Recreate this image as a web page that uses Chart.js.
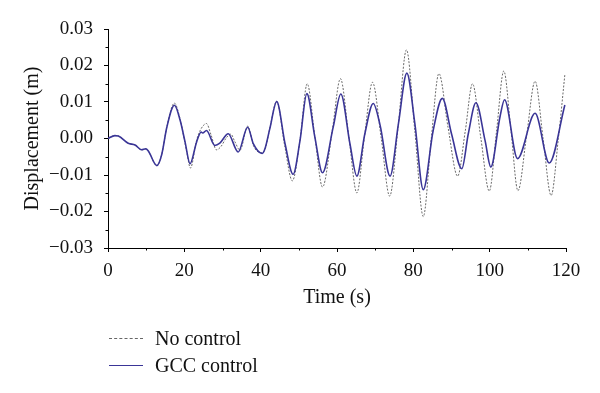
<!DOCTYPE html>
<html>
<head>
<meta charset="utf-8">
<script src="https://cdn.jsdelivr.net/npm/chart.js@4.4.0/dist/chart.umd.min.js"></script>
<style>
  body { margin: 0; background: #fff; }
  #wrap { position: relative; width: 600px; height: 393px; }
  #legend { position: absolute; left: 109px; top: 325px; font-family: 'Liberation Serif', serif; font-size: 20px; color: #111; }
  .row { display: flex; align-items: center; height: 27px; }
  .swatch { width: 34px; height: 0; margin-right: 12px; }
</style>
</head>
<body>
<div id="wrap">
  <canvas id="myChart" width="600" height="393"></canvas>
  <div id="legend">
    <div class="row"><span class="swatch" style="border-top:1px dashed #666"></span><span>No control</span></div>
    <div class="row"><span class="swatch" style="border-top:1.5px solid #3a3597"></span><span>GCC control</span></div>
  </div>
</div>
<script>
// time (s) and displacement (m)
const timeNo = [0, 1.8, 2.7, 5.3, 7.1, 8.8, 9.9, 10.6, 12.8, 14.1, 15.4, 17.4, 18.9, 20.6, 21.6, 23.2, 24.3, 25.8, 27.0, 28.4,
    29.6, 31.0, 32.2, 33.2, 34.6, 36.6, 38.2, 40.3, 41.2, 42.4, 44.2, 46.3, 48.3, 50.3, 52.2, 54.2, 56.2, 58.8, 60.9, 63.1,
    65.2, 67.2, 69.3, 71.6, 73.8, 76.0, 78.2, 80.4, 82.6, 84.7, 86.7, 89.1, 91.6, 93.6, 95.5, 97.7, 99.9, 101.8, 103.7, 105.6,
    107.4, 109.7, 111.9, 114.0, 116.1, 118.0, 119.7];
const noControl = [0, 0.0008, 0.0007, -0.0013, -0.0018, -0.0031, -0.0029, -0.0035, -0.0075, -0.0043, 0.0031, 0.0097, 0.0053, -0.0035, -0.0081, -0.0005, 0.0025, 0.0041, 0.001, -0.0031,
    -0.0022, 0.0002, 0.0012, -0.0008, -0.0032, 0.0034, -0.0022, -0.0039, -0.0028, 0.0028, 0.0102, -0.002, -0.0116, -0.0005, 0.0150, 0.0005, -0.0133, 0.0025, 0.0164, 0.0005,
    -0.0149, 0.0005, 0.0154, 0.0, -0.0158, 0.003, 0.0243, 0.002, -0.0214, 0.0, 0.0178, 0.003, -0.0103, 0.002, 0.0150, 0.0, -0.0144, 0.002, 0.0185, 0.002,
    -0.0143, 0.001, 0.0157, 0.0, -0.0156, 0.0, 0.0175];

const timeGcc = [0, 1.8, 2.7, 5.3, 7.1, 8.8, 9.9, 10.6, 12.8, 14.1, 15.4, 17.4, 18.9, 20.2, 21.5, 23.2, 24.4, 24.8, 25.8, 28.0,
    29.3, 31.5, 34.1, 36.6, 38.1, 40.4, 41.1, 42.4, 44.2, 46.4, 48.5, 50.3, 52.1, 54.2, 56.2, 59.0, 61.0, 63.4, 65.2, 67.3,
    69.5, 71.3, 73.9, 76.1, 78.3, 80.4, 82.6, 85.2, 87.6, 90.0, 92.7, 94.4, 96.4, 98.8, 100.3, 102.7, 103.9, 107.3, 111.9, 115.6, 119.7];
const gccControl = [0, 0.0008, 0.0007, -0.0013, -0.0018, -0.0031, -0.0028, -0.0035, -0.0074, -0.0043, 0.0030, 0.0091, 0.005, -0.001, -0.0069, -0.001, 0.0018, 0.0015, 0.0022, -0.0019,
    -0.0013, 0.0013, -0.0037, 0.0031, -0.0015, -0.0041, -0.0029, 0.0027, 0.0101, -0.0015, -0.0098, -0.0006, 0.0123, 0.0004, -0.0094, 0.0031, 0.0122, -0.0015, -0.0103, 0.0013,
    0.0096, 0.0036, -0.0103, 0.0041, 0.0179, 0.0041, -0.0140, 0.0022, 0.0110, 0.0013, -0.0083, 0.0013, 0.0098, -0.0006, -0.0078, 0.0059, 0.0106, -0.0055, 0.0069, -0.0067, 0.0092];

const xTicks = [0, 20, 40, 60, 80, 100, 120];
const yTicks = [-0.03, -0.02, -0.01, 0, 0.01, 0.02, 0.03];

function pts(t, v) {
    return t.map((x, i) => ({ x: x, y: v[i] }));
}

const serif = "'Liberation Serif', 'DejaVu Serif', serif";

// small ticks between the labelled ones
const minorTicks = {
    id: 'minorTicks',
    afterDraw(chart) {
        const c = chart.ctx;
        const xs = chart.scales.x, ys = chart.scales.y;
        c.save();
        c.strokeStyle = '#000';
        c.lineWidth = 1;
        c.beginPath();
        for (let i = 0; i < xTicks.length - 1; i++) {
            const px = Math.round(xs.getPixelForValue((xTicks[i] + xTicks[i + 1]) / 2)) + 0.5;
            c.moveTo(px, xs.top);
            c.lineTo(px, xs.top + 2.5);
        }
        for (let i = 0; i < yTicks.length - 1; i++) {
            const py = Math.round(ys.getPixelForValue((yTicks[i] + yTicks[i + 1]) / 2)) + 0.5;
            c.moveTo(ys.right, py);
            c.lineTo(ys.right - 2.5, py);
        }
        c.stroke();
        c.restore();
    }
};

const ctx = document.getElementById('myChart').getContext('2d');
const myChart = new Chart(ctx, {
    type: 'line',
    data: {
        datasets: [{
                label: 'GCC control',
                data: pts(timeGcc, gccControl),
                borderColor: '#3a3597',
                borderWidth: 1.6,
                pointRadius: 0,
                cubicInterpolationMode: 'monotone',
                order: 0
            },
            {
                label: 'No control',
                data: pts(timeNo, noControl),
                borderColor: '#6a6a6a',
                borderWidth: 1,
                borderDash: [2, 1.5],
                pointRadius: 0,
                cubicInterpolationMode: 'monotone',
                order: 1
            }
        ]
    },
    options: {
        responsive: false,
        animation: false,
        layout: { padding: { top: 29, right: 34, bottom: 83, left: 0 } },
        plugins: { legend: { display: false }, tooltip: { enabled: false } },
        scales: {
            x: {
                type: 'linear',
                min: 0,
                max: 120,
                afterFit: (s) => { s.height = 62; },
                afterBuildTicks: (s) => { s.ticks = xTicks.map(v => ({ value: v })); },
                grid: { drawOnChartArea: false, color: '#000', tickLength: 4 },
                border: { color: '#000' },
                ticks: { color: '#111', font: { family: serif, size: 19 }, padding: 8 },
                title: { display: true, text: 'Time (s)', color: '#111', font: { family: serif, size: 20 }, padding: 0 }
            },
            y: {
                min: -0.03,
                max: 0.03,
                afterFit: (s) => { s.width = 108; },
                afterBuildTicks: (s) => { s.ticks = yTicks.map(v => ({ value: v })); },
                grid: { drawOnChartArea: false, color: '#000', tickLength: 4 },
                border: { color: '#000' },
                ticks: {
                    color: '#111',
                    font: { family: serif, size: 19 },
                    padding: 11,
                    callback: (v) => (v < 0 ? '\u2212' : '') + Math.abs(v).toFixed(2)
                },
                title: { display: true, text: 'Displacement (m)', color: '#111', font: { family: serif, size: 20 }, padding: { top: 21, bottom: 0 } }
            }
        }
    },
    plugins: [minorTicks]
});
</script>
</body>
</html>
